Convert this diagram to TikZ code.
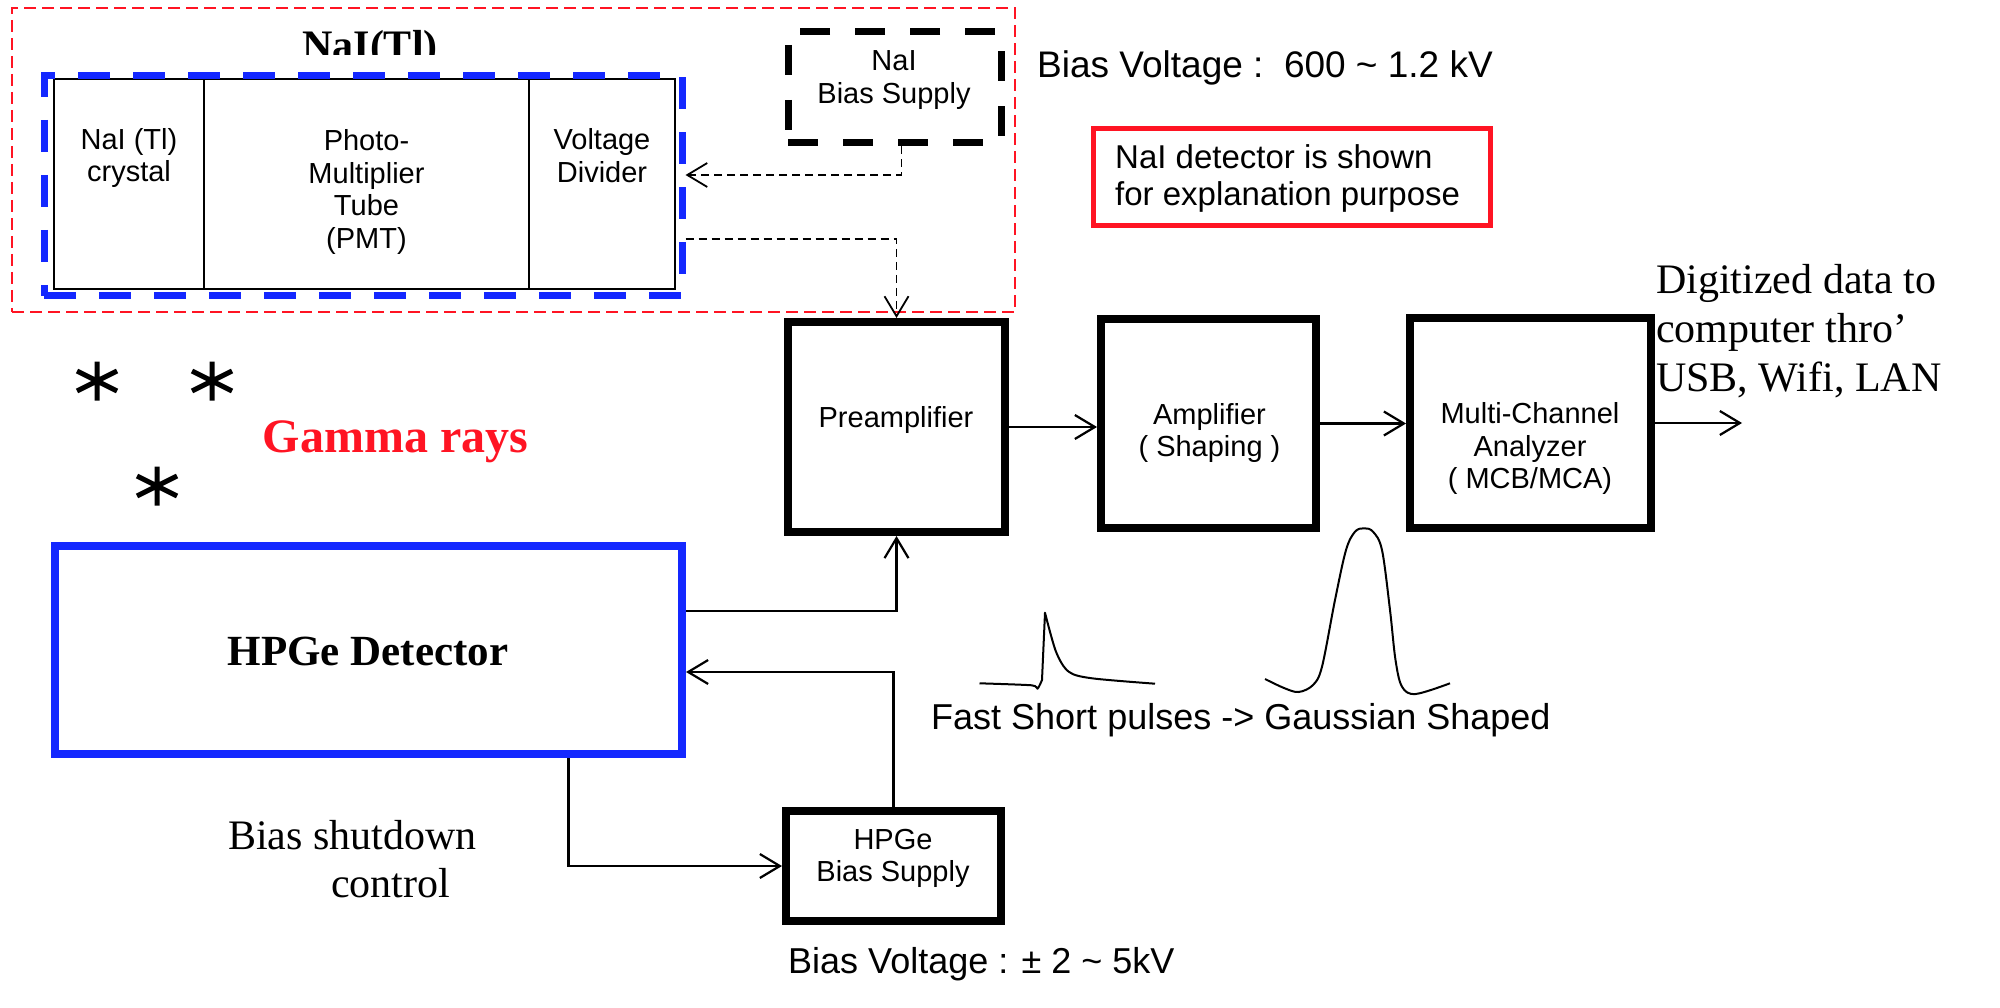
\documentclass[tikz,border=0pt]{standalone}
\usepackage{fontspec}
\setmainfont{Liberation Serif}
\setsansfont{Liberation Sans}
\usetikzlibrary{arrows.meta}
\definecolor{myblue}{RGB}{20,40,255}
\definecolor{myred}{RGB}{255,20,35}
\begin{document}
\begin{tikzpicture}[x=1pt,y=-1pt,
  blkbox/.style={draw=black,line width=8pt,inner sep=0pt},
  thinbox/.style={draw=black,line width=2pt,inner sep=0pt},
  bluedash/.style={draw=myblue,line width=7pt,dash pattern=on 32pt off 23pt,inner sep=0pt},
  blkdash/.style={draw=black,line width=7pt,dash pattern=on 30pt off 25pt,inner sep=0pt},
  lbl/.style={font=\sffamily\fontsize{29}{32.5}\selectfont,align=center,inner sep=0pt},
  conn/.style={line width=2.2pt,-{Straight Barb[length=20pt,width=24pt,line width=2.2pt]}},
  dconn/.style={line width=1.8pt,dash pattern=on 8pt off 5pt,-{Straight Barb[length=20pt,width=24pt,line width=1.8pt]}},
  starmark/.pic={\draw[line width=5pt] (0,-19.5)--(0,19.5) (-20,-10)--(20,10) (-20,10)--(20,-10);}
]
\useasboundingbox (0,0) rectangle (2000,1008);

% ---------- NaI group ----------
\node[draw=myred,line width=2pt,dash pattern=on 12pt off 6pt,minimum width=1003pt,minimum height=304pt,inner sep=0pt] (naigroup) at (513.5,160) {};
\begin{scope}
  \clip (0,0) rectangle (2000,55);
  \node[font=\bfseries\fontsize{42}{48}\selectfont,anchor=base,inner sep=0pt] (naititle) at (370,60) {NaI(Tl)};
\end{scope}
\node[thinbox,minimum width=150pt,minimum height=210pt] (crystal) at (129,184) {};
\node[thinbox,minimum width=325pt,minimum height=210pt] (pmt) at (366.5,184) {};
\node[thinbox,minimum width=146pt,minimum height=210pt] (vdiv) at (602,184) {};
\node[bluedash,minimum width=638pt,minimum height=220pt] (naibox) at (363,186) {};
\node[lbl] (crystaltxt) at (129,158) {NaI (Tl)\\crystal};
\node[lbl] (pmttxt) at (366.5,192) {Photo-\\Multiplier\\Tube\\(PMT)};
\node[lbl] (vdivtxt) at (602,155.5) {Voltage\\Divider};

\node[blkdash,minimum width=213pt,minimum height=111pt] (nbias) at (894.5,87.5) {};
\node[lbl] (nbiastxt) at (894,80) {NaI\\Bias Supply};

\node[font=\sffamily\fontsize{37}{40}\selectfont,anchor=west,inner sep=0pt] (naivolt) at (1037,68) {Bias Voltage :\ \ 600 \textasciitilde{} 1.2 kV};

\node[draw=myred,line width=5pt,minimum width=397pt,minimum height=97pt,inner sep=0pt] (note) at (1292,177) {};
\node[font=\sffamily\fontsize{33}{37}\selectfont,align=left,anchor=west,inner sep=0pt] (notetxt) at (1115,178.5) {NaI detector is shown\\for explanation purpose};

% ---------- chain ----------
\node[blkbox,minimum width=217pt,minimum height=210pt] (preamp) at (896.5,427) {};
\node[blkbox,minimum width=215pt,minimum height=209pt] (amp) at (1208.5,423.5) {};
\node[blkbox,minimum width=241pt,minimum height=210pt] (mca) at (1530.5,423) {};
\node[lbl] (preamptxt) at (896,420) {Preamplifier};
\node[lbl] (amptxt) at (1209.5,433) {Amplifier\\( Shaping )};
\node[lbl] (mcatxt) at (1530,448.5) {Multi-Channel\\Analyzer\\( MCB/MCA)};
\coordinate (out) at (1742,421);
\node[font=\fontsize{42}{49}\selectfont,align=left,anchor=west,inner sep=0pt] (digtxt) at (1656,331) {Digitized data to\\computer thro’\\USB, Wifi, LAN};

% ---------- HPGe ----------
\node[draw=myblue,line width=8pt,minimum width=627pt,minimum height=208pt,inner sep=0pt] (hpge) at (368.5,650) {};
\node[font=\bfseries\fontsize{43}{48}\selectfont,anchor=base,inner sep=0pt] (hpgetxt) at (368,665) {HPGe Detector};
\node[blkbox,minimum width=215pt,minimum height=110pt] (hbias) at (893.5,866) {};
\node[lbl] (hbiastxt) at (893,858.5) {HPGe\\Bias Supply};
\node[font=\sffamily\fontsize{36}{40}\selectfont,anchor=west,inner sep=0pt] (hpgevolt) at (788,964) {Bias Voltage : ± 2 \textasciitilde{} 5kV};
\node[font=\fontsize{42}{48}\selectfont,align=left,anchor=base west,inner sep=0pt] (shutdown) at (228,897) {Bias shutdown\\\hspace*{103pt}control};

\node[font=\bfseries\fontsize{48}{54}\selectfont,text=myred,anchor=base,inner sep=0pt] (gamma) at (395.5,452.5) {Gamma rays};
\pic at (97,381) {starmark};
\pic at (212,381) {starmark};
\pic at (157,486) {starmark};

% ---------- connectors ----------
\draw[dconn] ([xshift=7pt]nbias.south) |- ([yshift=11pt]naibox.east);
\draw[dconn] ([yshift=-53pt]naibox.east) -| (preamp.north);
\draw[conn] (preamp.east) -- (preamp.east -| amp.west);
\draw[conn] (amp.east) -- (amp.east -| mca.west);
\draw[conn] (mca.east) -- (mca.east -| out);
\draw[conn] ([yshift=39pt]hpge.east) -| (preamp.south);
\draw[conn] (hbias.north) |- ([yshift=-22pt]hpge.east);
\draw[conn] ([xshift=200pt]hpge.south) |- (hbias.west);

% ---------- pulses ----------
\draw[line width=2pt,line join=round] plot[smooth,tension=0.4] coordinates {(979.5,683.3) (1031.7,685.3) (1037.5,688.7) (1042,680)} -- (1045,612.7) -- plot[smooth,tension=0.5] coordinates {(1045,612.7) (1056,651.7) (1068.7,671.7) (1092,678.3) (1155,683.7)};
\draw[line width=2pt] plot[smooth,tension=0.55] coordinates {(1265,679) (1284,688) (1298.6,692) (1313,685) (1322,666.7) (1335,600) (1346,550) (1355,531.7) (1364,528.3) (1373,531.7) (1382,550) (1390,610) (1395.5,660) (1402,686.7) (1415.6,694) (1450,683.3)};
\node[font=\sffamily\fontsize{36}{40}\selectfont,anchor=west,inner sep=0pt] (pulsetxt) at (931,720) {Fast Short pulses -> Gaussian Shaped};
\end{tikzpicture}
\end{document}
